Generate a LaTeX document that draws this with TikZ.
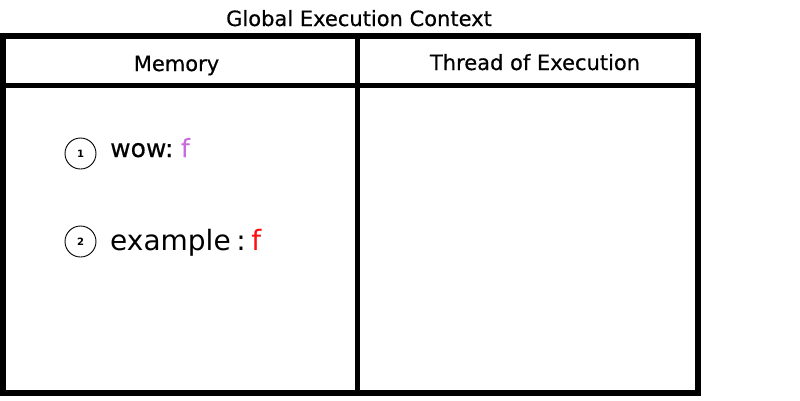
\documentclass[tikz,border=0pt]{standalone}
\usepackage{fontspec}
\setmainfont{DejaVu Sans}
\definecolor{fpurple}{HTML}{C86BDE}
\definecolor{fred}{HTML}{FF1010}
\begin{document}
\begin{tikzpicture}[x=1pt,y=-1pt,
  outer/.style={line width=6pt},
  inner/.style={line width=5pt},
  head/.style={font=\fontsize{21}{24}\selectfont\addfontfeature{FakeBold=0.5}, inner sep=0pt},
  num/.style={circle, draw, line width=0.9pt, minimum size=31pt, inner sep=0pt, font=\fontsize{10}{12}\selectfont\bfseries},
  entry/.style={inner sep=0pt, anchor=base west}]
\useasboundingbox (0,0) rectangle (800,400);
\draw[outer] (3,36) rectangle (698,393);
\draw[inner] (3,85.5) -- (698,85.5);
\draw[inner] (357.5,36) -- (357.5,393);
\node[head, anchor=base] (title) at (359,26) {Global Execution Context};
\node[head, anchor=base] (mem) at (176.5,71) {Memory};
\node[head, anchor=base] (thread) at (535,70) {Thread of Execution};
\node[num] (n1) at (80.5,153.5) {1};
\node[num] (n2) at (80.5,241.5) {2};
\node[entry, font=\fontsize{25}{28}\selectfont\addfontfeature{FakeBold=0.4}] (wow) at (110,157) {wow:\hspace{0.3em}\textcolor{fpurple}{f}};
\node[entry, font=\fontsize{28}{32}\selectfont] (ex) at (110,250) {example\hspace{0.2em}:\hspace{0.2em}\textcolor{fred}{f}};
\end{tikzpicture}
\end{document}
